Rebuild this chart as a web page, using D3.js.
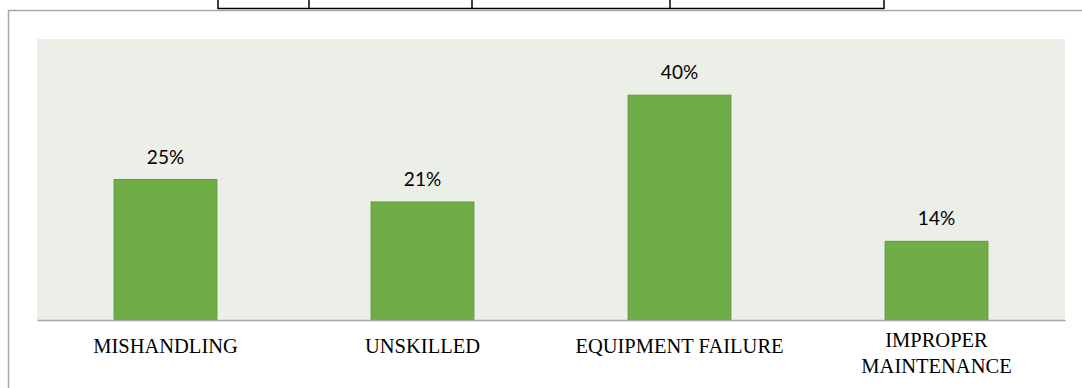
<!DOCTYPE html>
<html>
<head>
<meta charset="utf-8">
<script src="https://cdn.jsdelivr.net/npm/d3@7"></script>
<style>
  body { margin: 0; background: #fff; }
  .pct { font-family: Lato, "Open Sans", sans-serif; font-size: 19px; fill: #000; }
  .cat { font-family: "Liberation Serif", "Times New Roman", serif; font-size: 20.5px; fill: #000; }
</style>
</head>
<body>
<div id="chart"></div>
<script>
const categories = ["MISHANDLING", "UNSKILLED", "EQUIPMENT FAILURE", "IMPROPER MAINTENANCE"];
const values = [25, 21, 40, 14];
const yMax = 50;

// table fragment that sits above the chart (x positions of its cell borders)
const tableCols = [218, 309, 472, 670, 884];

const W = 1082, H = 388;
const margin = { top: 39, right: 17, bottom: 68, left: 37 };
const width = W - margin.left - margin.right;
const height = H - margin.top - margin.bottom;

const svg = d3.select("#chart").append("svg")
  .attr("width", W)
  .attr("height", H);

// bit of the table above
svg.append("line")
  .attr("x1", tableCols[0]).attr("x2", tableCols[tableCols.length - 1])
  .attr("y1", 8.5).attr("y2", 8.5)
  .attr("stroke", "#000").attr("stroke-width", 1.5);
svg.selectAll(".tcol").data(tableCols).join("line")
  .attr("class", "tcol")
  .attr("x1", d => d).attr("x2", d => d)
  .attr("y1", 0).attr("y2", 9)
  .attr("stroke", "#000").attr("stroke-width", 1.5);

// chart frame
svg.append("path")
  .attr("d", `M8.5,${H} L8.5,10.5 L${W},10.5`)
  .attr("fill", "none")
  .attr("stroke", "#a6a6a6")
  .attr("stroke-width", 1.5);

const g = svg.append("g").attr("transform", `translate(${margin.left},${margin.top})`);

g.append("rect")
  .attr("width", width).attr("height", height)
  .attr("fill", "#ebefe7");

const x = d3.scaleBand().domain(categories).range([0, width]).paddingInner(0.6).paddingOuter(0.3);
const y = d3.scaleLinear().domain([0, yMax]).range([height, 0]);

const data = categories.map((c, i) => ({ cat: c, v: values[i] }));

g.selectAll(".bar").data(data).join("rect")
  .attr("class", "bar")
  .attr("x", d => x(d.cat))
  .attr("y", d => y(d.v))
  .attr("width", x.bandwidth())
  .attr("height", d => height - y(d.v))
  .attr("fill", "#70ad47")
  .attr("stroke", "#5e9a3a")
  .attr("stroke-width", 1);

g.selectAll(".pct").data(data).join("text")
  .attr("class", "pct")
  .attr("x", d => x(d.cat) + x.bandwidth() / 2)
  .attr("y", d => y(d.v) - 16)
  .attr("text-anchor", "middle")
  .text(d => d.v + "%");

const xAxis = g.append("g")
  .attr("transform", `translate(0,${height})`)
  .call(d3.axisBottom(x).tickSize(0).tickPadding(0));
xAxis.select(".domain").attr("stroke", "#a6a6a6").attr("stroke-width", 1.5);
xAxis.selectAll("text").attr("class", "cat").attr("dy", null).attr("y", 33)
  .attr("font-family", null).attr("font-size", null).attr("fill", null);

// wrap long labels onto two lines
const step = x.step();
xAxis.selectAll(".tick text").each(function (d) {
  const t = d3.select(this);
  if (this.getComputedTextLength() < step - 10) return;
  const words = d.split(" ");
  t.text(null);
  t.attr("y", 27);
  words.forEach((w, i) => {
    t.append("tspan").attr("x", 0).attr("dy", i === 0 ? 0 : 26).text(w);
  });
});
</script>
</body>
</html>
